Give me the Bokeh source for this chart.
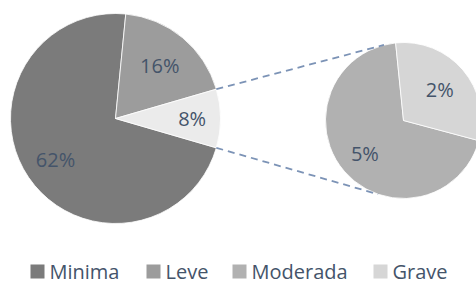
import numpy as np
from bokeh.plotting import figure
from bokeh.models import Range1d, ColumnDataSource
from bokeh.core.properties import value
from bokeh.embed import file_html
from bokeh.resources import INLINE

# ---- data ----
categories = ["Minima", "Leve", "Moderada", "Grave"]
values = [62.4, 16.4, 5.4, 2.4]          # percent
colors = ["#7b7b7b", "#9c9c9c", "#b1b1b1", "#d6d6d6"]
other_color = "#ebebeb"
label_color = "#44546a"
connector_color = "#7c93b6"

# ---- layout (picture pixel coordinates) ----
PAGE_W, PAGE_H = 476, 286
def Y(py):
    return PAGE_H - py

main_cx, main_cy, main_r = 115, Y(118), 105
sec_cx, sec_cy, sec_r = 403, Y(120), 78
sec_top_deg = 95.8      # where the second pie's first slice starts (clockwise)
FONT = value("Open Sans")

p = figure(width=PAGE_W, height=PAGE_H, x_range=Range1d(0, PAGE_W), y_range=Range1d(0, PAGE_H),
           output_backend="svg", toolbar_location=None, min_border=0,
           x_axis_location=None, y_axis_location=None)
p.grid.visible = False
p.outline_line_color = None
p.background_fill_color = "white"

minima, leve, moderada, grave = values
other = moderada + grave
total = minima + leve + other

# main pie
a_o = other / total * 2 * np.pi
a_l = leve / total * 2 * np.pi
main_start = [a_o / 2 + a_l, a_o / 2, -a_o / 2]
main_end = [2 * np.pi - a_o / 2, a_o / 2 + a_l, a_o / 2]
main_vals = [minima, leve, other]
main_cols = [colors[0], colors[1], other_color]
msrc = ColumnDataSource(dict(start=main_start, end=main_end, color=main_cols))
p.wedge(x=main_cx, y=main_cy, radius=main_r, start_angle="start", end_angle="end",
        fill_color="color", line_color="white", line_width=0.8, source=msrc)

# second pie
top = np.deg2rad(sec_top_deg)
a_g = grave / other * 2 * np.pi
sec_start = [top, top - a_g]
sec_end = [top - a_g + 2 * np.pi, top]
sec_vals = [moderada, grave]
ssrc = ColumnDataSource(dict(start=sec_start, end=sec_end, color=[colors[2], colors[3]]))
p.wedge(x=sec_cx, y=sec_cy, radius=sec_r, start_angle="start", end_angle="end",
        fill_color="color", line_color="white", line_width=0.8, source=ssrc)

# connector lines
x0 = main_cx + main_r * np.cos(a_o / 2)
y0u = main_cy + main_r * np.sin(a_o / 2)
y0d = main_cy - main_r * np.sin(a_o / 2)
au, ad = np.deg2rad(104.5), np.deg2rad(-109.0)
p.segment(x0=[x0, x0], y0=[y0u, y0d],
          x1=[sec_cx + sec_r * np.cos(au), sec_cx + sec_r * np.cos(ad)],
          y1=[sec_cy + sec_r * np.sin(au), sec_cy + sec_r * np.sin(ad)],
          line_color=connector_color, line_width=1.8, line_dash="7 5")

# data labels
def mids(starts, ends):
    return [(s + e) / 2 for s, e in zip(starts, ends)]

mm = mids(main_start, main_end)
fr = [0.69, 0.66, 0.73]
lx = [main_cx + f * main_r * np.cos(m) for f, m in zip(fr, mm)]
ly = [main_cy + f * main_r * np.sin(m) for f, m in zip(fr, mm)]
sm = mids(sec_start, sec_end)
fr2 = [0.65, 0.61]
lx += [sec_cx + f * sec_r * np.cos(m) for f, m in zip(fr2, sm)]
ly += [sec_cy + f * sec_r * np.sin(m) for f, m in zip(fr2, sm)]
labels = [f"{round(v)}%" for v in main_vals + sec_vals]
p.text(x=lx, y=ly, text=labels, text_font=FONT, text_font_size="20px",
       text_color=label_color, text_align="center", text_baseline="middle")

# legend (manual, bottom)
leg_text_x = [49, 165, 251, 392]
leg_y = Y(271)
p.rect(x=[tx - 12 for tx in leg_text_x], y=[leg_y] * 4, width=14, height=14,
       fill_color=colors, line_color=None)
p.text(x=leg_text_x, y=[leg_y] * 4, text=categories, text_font=FONT,
       text_font_size="20px", text_color=label_color, text_align="left",
       text_baseline="middle")

open("out.html", "w").write(file_html(p, INLINE))
